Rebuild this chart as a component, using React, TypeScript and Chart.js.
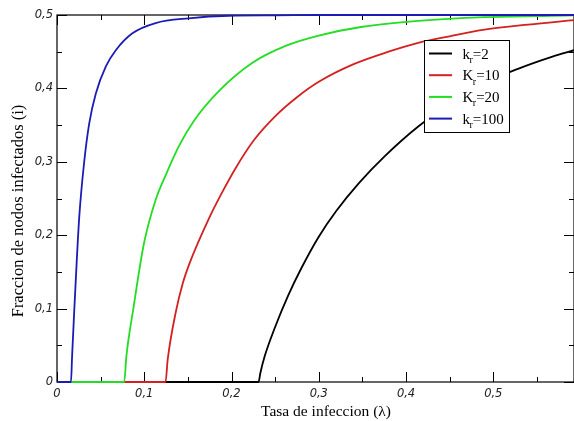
import React, { useEffect, useRef } from "react";
import { Chart, registerables } from "chart.js";

Chart.register(...registerables);

// ---------- data ----------
const legendBase = ["k", "K", "K", "k"];
const legendValue = ["=2", "=10", "=20", "=100"];
const seriesColors = ["#000000", "#d42020", "#22dd22", "#1c1cb4"];

const kr2X = [0, 0.231, 0.233, 0.238, 0.25, 0.265, 0.28, 0.3, 0.32, 0.346, 0.376, 0.414, 0.452, 0.49, 0.529, 0.567, 0.5925];
const kr2Y = [0, 0, 0.012, 0.035, 0.075, 0.118, 0.155, 0.198, 0.233, 0.271, 0.308, 0.348, 0.38, 0.407, 0.427, 0.443, 0.452];

const kr10X = [0, 0.1244, 0.1268, 0.1366, 0.144, 0.152, 0.175, 0.19, 0.205, 0.226, 0.25, 0.275, 0.3, 0.34, 0.38, 0.414, 0.45, 0.49, 0.54, 0.5925];
const kr10Y = [0, 0, 0.03, 0.098, 0.134, 0.162, 0.225, 0.26, 0.292, 0.33, 0.362, 0.388, 0.409, 0.433, 0.45, 0.462, 0.471, 0.48, 0.487, 0.493];

const kr20X = [0, 0.077, 0.0795, 0.0875, 0.0997, 0.113, 0.125, 0.14, 0.157, 0.186, 0.224, 0.262, 0.3, 0.35, 0.414, 0.49, 0.566, 0.5925];
const kr20Y = [0, 0, 0.035, 0.1, 0.189, 0.248, 0.283, 0.322, 0.356, 0.397, 0.435, 0.458, 0.472, 0.484, 0.492, 0.497, 0.499, 0.4995];

const kr100X = [0, 0.016, 0.0173, 0.0198, 0.0225, 0.0255, 0.031, 0.0369, 0.0445, 0.056, 0.0674, 0.0864, 0.113, 0.151, 0.197, 0.25, 0.3, 0.5925];
const kr100Y = [0, 0, 0.035, 0.098, 0.162, 0.225, 0.298, 0.352, 0.393, 0.43, 0.452, 0.475, 0.489, 0.4955, 0.499, 0.4995, 0.5, 0.5];

const seriesX = [kr2X, kr10X, kr20X, kr100X];
const seriesY = [kr2Y, kr10Y, kr20Y, kr100Y];

const X_MIN = 0;
const X_MAX = 0.5925;
const X_STEP = 0.1;
const Y_MIN = 0;
const Y_MAX = 0.5;
const Y_STEP = 0.1;

const X_TITLE = "Tasa de infeccion (\u03bb)";
const Y_TITLE = "Fraccion de nodos infectados (i)";

const fmt = (v: number) => (Math.abs(v) < 1e-9 ? "0" : v.toFixed(1).replace(".", ","));

// ---------- plugins ----------
const framePlugin = {
  id: "frame",
  beforeDatasetsDraw(chart: any) {
    const { ctx, chartArea: a, scales } = chart;
    const xs = scales.x;
    const ys = scales.y;
    ctx.save();
    ctx.strokeStyle = "#000";
    ctx.lineWidth = 1.2;
    ctx.strokeRect(a.left, a.top, a.right - a.left, a.bottom - a.top);
    const MAJ = 10;
    const MIN = 5;
    ctx.beginPath();
    const xt = xs.ticks.map((t: any) => t.value);
    const xStep = xt.length > 1 ? xt[1] - xt[0] : X_STEP;
    xt.forEach((v: number) => {
      const p = Math.round(xs.getPixelForValue(v)) + 0.5;
      ctx.moveTo(p, a.bottom);
      ctx.lineTo(p, a.bottom - MAJ);
      ctx.moveTo(p, a.top);
      ctx.lineTo(p, a.top + MAJ);
      const m = v + xStep / 2;
      if (m <= xs.max) {
        const q = Math.round(xs.getPixelForValue(m)) + 0.5;
        ctx.moveTo(q, a.bottom);
        ctx.lineTo(q, a.bottom - MIN);
        ctx.moveTo(q, a.top);
        ctx.lineTo(q, a.top + MIN);
      }
    });
    const yt = ys.ticks.map((t: any) => t.value);
    const yStep = yt.length > 1 ? yt[1] - yt[0] : Y_STEP;
    yt.forEach((v: number) => {
      const p = Math.round(ys.getPixelForValue(v)) + 0.5;
      ctx.moveTo(a.left, p);
      ctx.lineTo(a.left + MAJ, p);
      ctx.moveTo(a.right, p);
      ctx.lineTo(a.right - MAJ, p);
      const m = v + yStep / 2;
      if (m <= ys.max) {
        const q = Math.round(ys.getPixelForValue(m)) + 0.5;
        ctx.moveTo(a.left, q);
        ctx.lineTo(a.left + MIN, q);
        ctx.moveTo(a.right, q);
        ctx.lineTo(a.right - MIN, q);
      }
    });
    ctx.lineWidth = 1;
    ctx.stroke();
    ctx.restore();
  },
};

const legendTitlesPlugin = {
  id: "legendTitles",
  afterDatasetsDraw(chart: any) {
    const { ctx } = chart;
    ctx.save();
    const bx = 424.5;
    const by = 40.5;
    const bw = 85;
    const bh = 92;
    ctx.fillStyle = "#fff";
    ctx.fillRect(bx, by, bw, bh);
    ctx.strokeStyle = "#000";
    ctx.lineWidth = 1;
    ctx.strokeRect(bx, by, bw, bh);
    chart.data.datasets.forEach((ds: any, i: number) => {
      const rowY = 53.5 + i * 21.7;
      ctx.strokeStyle = ds.borderColor;
      ctx.lineWidth = 2;
      ctx.beginPath();
      ctx.moveTo(429, rowY);
      ctx.lineTo(452, rowY);
      ctx.stroke();
      ctx.fillStyle = "#000";
      ctx.textBaseline = "alphabetic";
      ctx.textAlign = "left";
      let x = 462.5;
      const base = rowY + 5;
      ctx.font = "15px 'Liberation Serif', serif";
      ctx.fillText(legendBase[i], x, base);
      x += ctx.measureText(legendBase[i]).width;
      ctx.font = "10px 'Liberation Serif', serif";
      ctx.fillText("r", x - 0.5, base + 4.5);
      x += ctx.measureText("r").width - 0.5;
      ctx.font = "15px 'Liberation Serif', serif";
      ctx.fillText(legendValue[i], x, base);
    });
    ctx.restore();
  },
  afterDraw(chart: any) {
    const { ctx } = chart;
    ctx.save();
    ctx.fillStyle = "#000";
    ctx.textAlign = "center";
    ctx.textBaseline = "middle";
    ctx.font = "15.5px 'Liberation Serif', serif";
    ctx.fillText(X_TITLE, 326, 412);
    ctx.translate(19, 211);
    ctx.rotate(-Math.PI / 2);
    ctx.font = "16.5px 'Liberation Serif', serif";
    ctx.fillText(Y_TITLE, 0, 0);
    ctx.restore();
  },
};

export default function App() {
  const canvasRef = useRef<HTMLCanvasElement | null>(null);

  useEffect(() => {
    const canvas = canvasRef.current;
    if (!canvas) return;
    const order = [4, 3, 2, 1];
    const datasets = seriesX.map((xsArr, i) => ({
      label: legendBase[i] + "r" + legendValue[i],
      data: xsArr.map((x, j) => ({ x, y: seriesY[i][j] })),
      borderColor: seriesColors[i],
      backgroundColor: seriesColors[i],
      borderWidth: 1.8,
      pointRadius: 0,
      fill: false,
      cubicInterpolationMode: "monotone" as const,
      order: order[i],
      clip: false as any,
    }));
    const tickFont = { family: "'DejaVu Sans', sans-serif", size: 11.5, style: "italic" as const };
    const chart = new Chart(canvas, {
      type: "line",
      data: { datasets },
      plugins: [framePlugin, legendTitlesPlugin],
      options: {
        animation: false,
        responsive: false,
        maintainAspectRatio: false,
        layout: { padding: { top: 15, left: 0, right: -2, bottom: 0 } },
        plugins: { legend: { display: false }, tooltip: { enabled: false } },
        scales: {
          x: {
            type: "linear",
            min: X_MIN,
            max: X_MAX,
            grid: { display: false, drawTicks: false },
            border: { display: false },
            ticks: {
              stepSize: X_STEP,
              includeBounds: false,
              padding: 5.5,
              color: "#222",
              font: tickFont,
              maxRotation: 0,
              callback: (v: any) => fmt(Number(v)),
            },
            afterFit: (s: any) => {
              s.height = 39;
            },
          },
          y: {
            type: "linear",
            min: Y_MIN,
            max: Y_MAX,
            grid: { display: false, drawTicks: false },
            border: { display: false },
            ticks: {
              stepSize: Y_STEP,
              includeBounds: false,
              padding: 4,
              color: "#222",
              font: tickFont,
              callback: (v: any) => fmt(Number(v)),
            },
            afterFit: (s: any) => {
              s.width = 57;
            },
          },
        },
      },
    });
    return () => chart.destroy();
  }, []);

  return (
    <div style={{ position: "fixed", left: 0, top: 0, width: 574, height: 421, background: "#fff" }}>
      <canvas ref={canvasRef} width={574} height={421} style={{ display: "block" }} />
    </div>
  );
}
